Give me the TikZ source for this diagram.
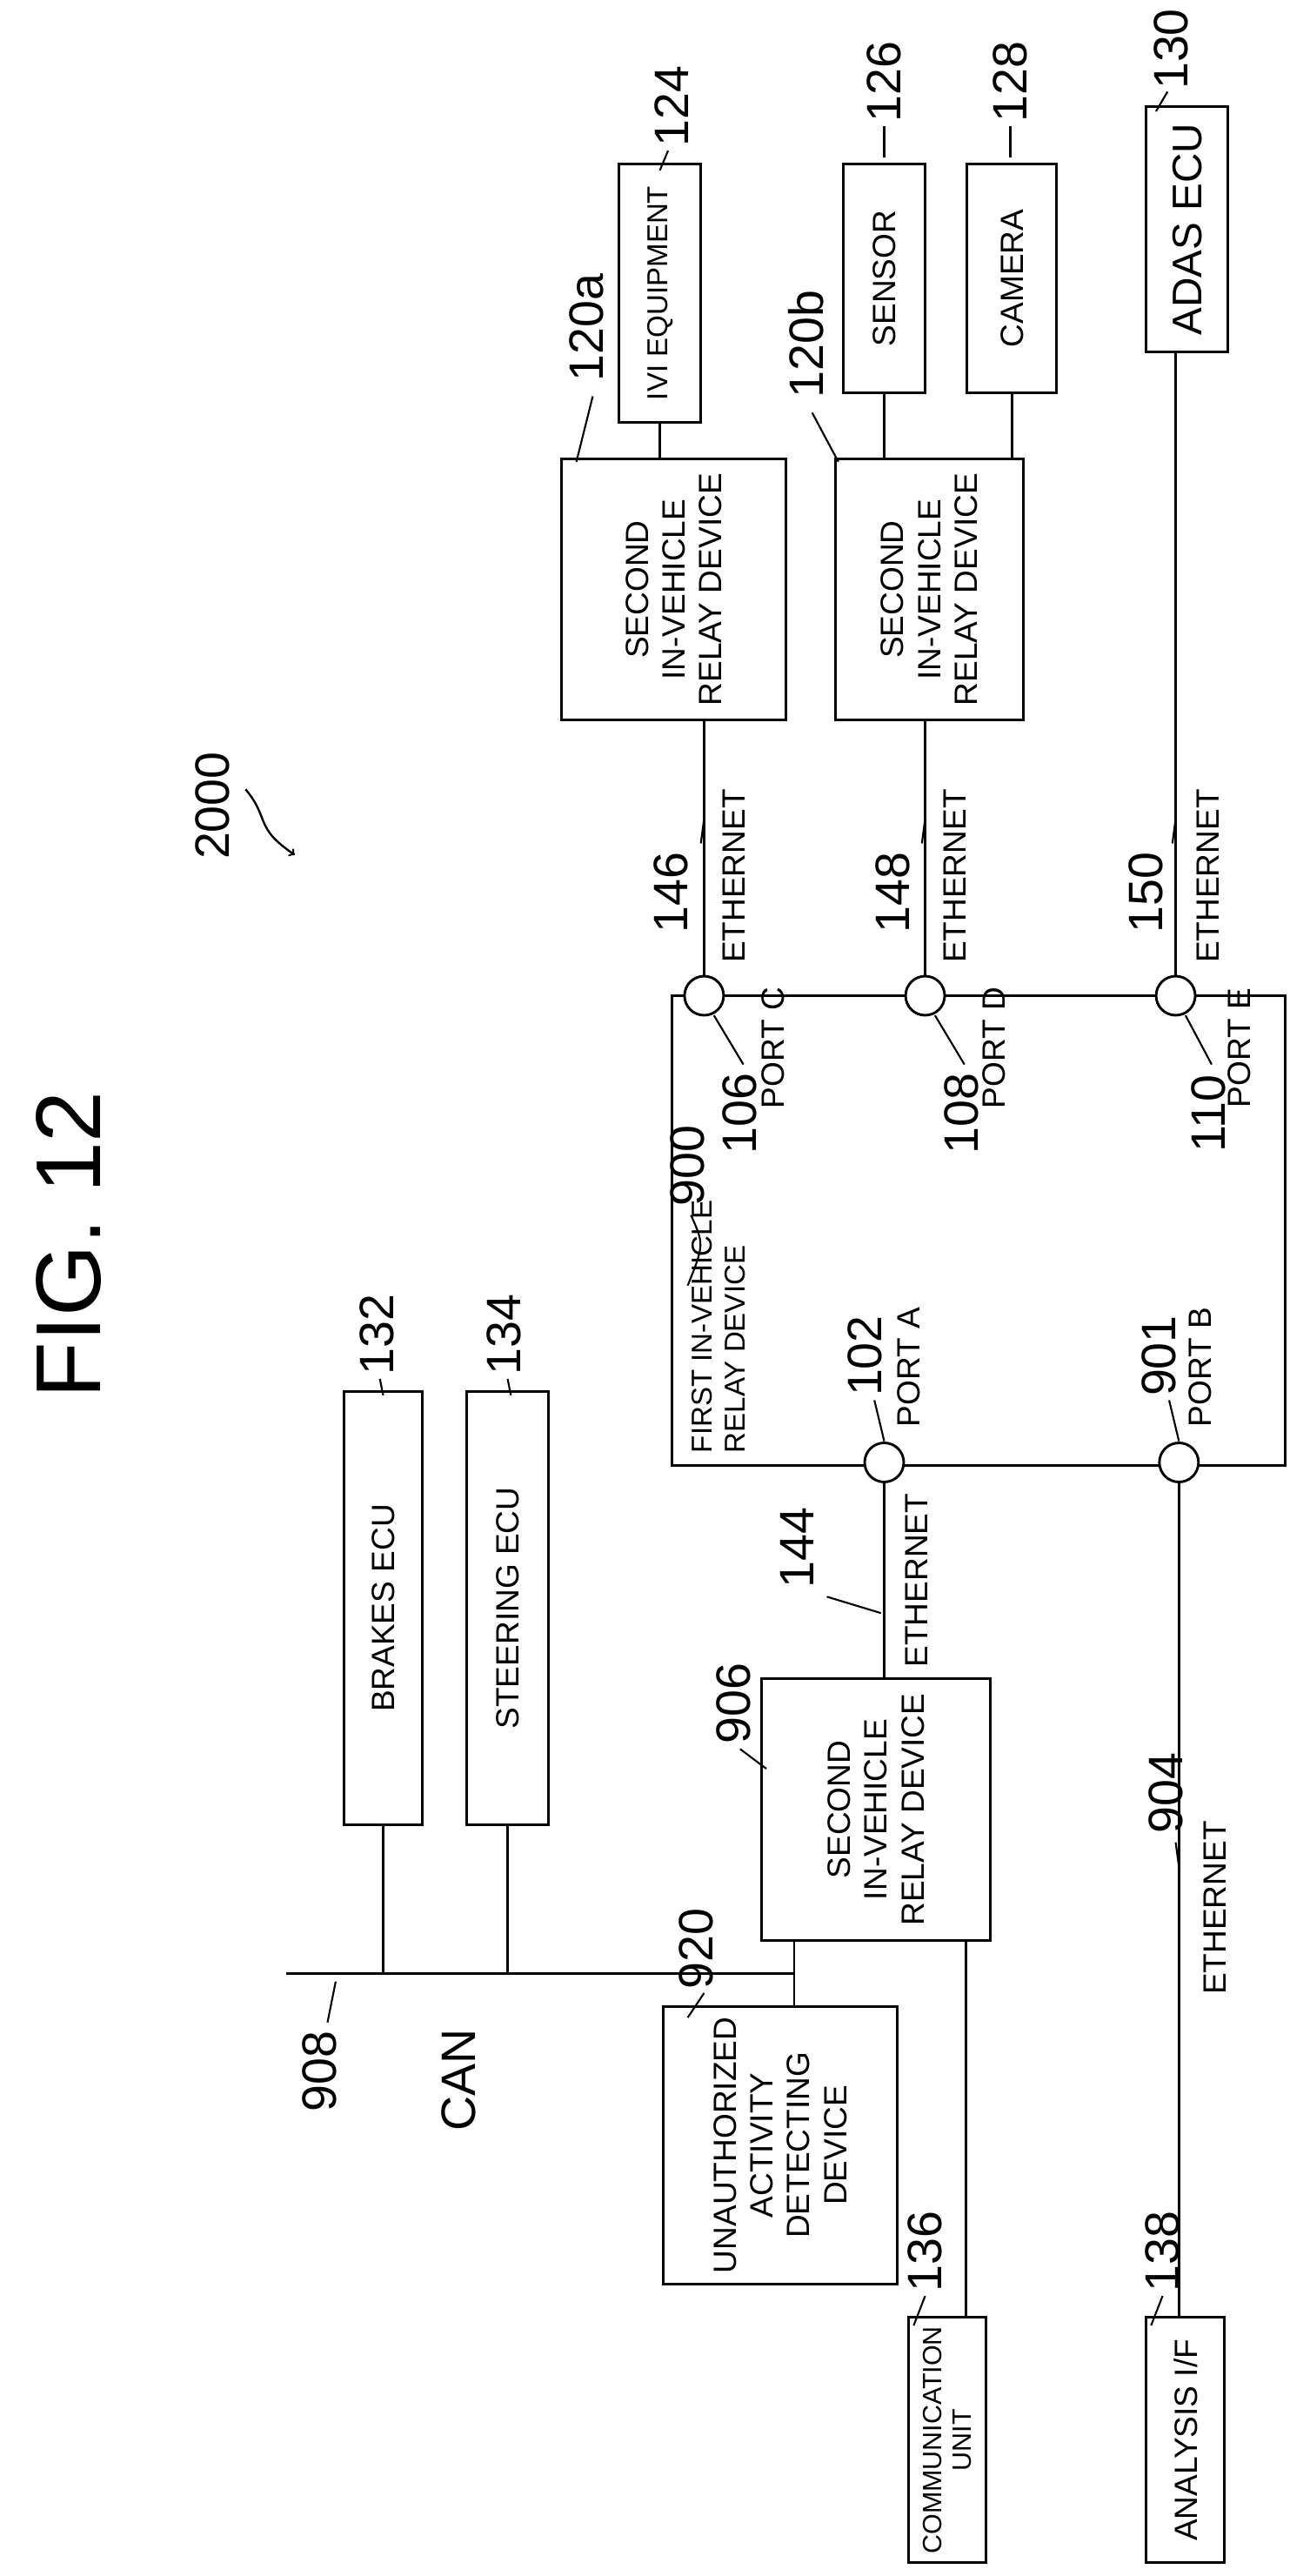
\documentclass[tikz,border=0pt]{standalone}
\usepackage{fontspec}
\setmainfont{Liberation Sans}
\begin{document}
\begin{tikzpicture}[x=0.05cm,y=-0.05cm,line width=2.2pt,
 bx/.style={draw,rectangle,inner sep=0},
 t/.style={rotate=90,font=\fontsize{28}{32}\selectfont,align=center,inner sep=0},
 n/.style={rotate=90,font=\fontsize{42}{46}\selectfont,inner sep=0},
 pt/.style={draw,circle,fill=white,minimum size=34pt,inner sep=0}]
\useasboundingbox (0,0) rectangle (800,1573);
\node[rotate=90,font=\fontsize{80}{80}\selectfont] (fig) at (42,760) {FIG. 12};
\node[n] (l2000) at (130,492) {2000};
\draw[->,line width=1.8pt] (150,482) .. controls (165,500) and (155,505) .. (180,522);
% first relay
\node[bx,minimum width=533pt,minimum height=408pt] (r900) at (597.5,751.5) {};
\node[t,anchor=south west,align=left,font=\fontsize{25}{29}\selectfont] (r900t) at (456,888) {FIRST IN-VEHICLE\\RELAY DEVICE};
% ports
\foreach \nm/\x/\y in {pA/540/893,pB/720/893,pC/430/608,pD/565/608,pE/718/608}
  \node[pt] (\nm) at (\x,\y) {};
% boxes
\node[bx,minimum width=195pt,minimum height=227pt] (r120a) at (411.5,360) {};
\node[t] at (r120a) {SECOND\\IN-VEHICLE\\RELAY DEVICE};
\node[bx,minimum width=163pt,minimum height=227pt] (r120b) at (567.5,360) {};
\node[t] at (r120b) {SECOND\\IN-VEHICLE\\RELAY DEVICE};
\node[bx,minimum width=71pt,minimum height=224pt] (ivi) at (403,179) {};
\node[t,font=\fontsize{25}{30}\selectfont] at (ivi) {IVI EQUIPMENT};
\node[bx,minimum width=71pt,minimum height=199pt] (sen) at (540,170) {};
\node[t] at (sen) {SENSOR};
\node[bx,minimum width=78pt,minimum height=199pt] (cam) at (618,170) {};
\node[t] at (cam) {CAMERA};
\node[bx,minimum width=71pt,minimum height=213pt] (adas) at (725,140) {};
\node[t,font=\fontsize{36}{40}\selectfont] at (adas) {ADAS ECU};
\node[bx,minimum width=199pt,minimum height=227pt] (r906) at (535,1105) {};
\node[t] at (r906) {SECOND\\IN-VEHICLE\\RELAY DEVICE};
\node[bx,minimum width=68pt,minimum height=376pt] (brk) at (234,982) {};
\node[t] at (brk) {BRAKES ECU};
\node[bx,minimum width=71pt,minimum height=376pt] (str) at (310,982) {};
\node[t] at (str) {STEERING ECU};
\node[bx,minimum width=203pt,minimum height=241pt] (uad) at (476.5,1310) {};
\node[t] at (uad) {UNAUTHORIZED\\ACTIVITY\\DETECTING\\DEVICE};
\node[bx,minimum width=67pt,minimum height=213pt] (com) at (578.5,1490) {};
\node[t,font=\fontsize{23}{26}\selectfont] at (com) {COMMUNICATION\\UNIT};
\node[bx,minimum width=68pt,minimum height=213pt] (ana) at (724,1490) {};
\node[t] at (ana) {ANALYSIS I/F};
% connections
\draw (pC) -- (pC|-r120a.south);
\draw (pD) -- (pD|-r120b.south);
\draw (pE) -- (pE|-adas.south);
\draw (ivi.south) -- (ivi.south|-r120a.north);
\draw (sen.south) -- (sen.south|-r120b.north);
\draw (cam.south) -- (cam.south|-r120b.north);
\draw (pA) -- (pA|-r906.north);
\draw (pB) -- (pB|-ana.north);
\coordinate (busL) at (175,1205);
\coordinate (busR) at (485,1205);
\coordinate (comX) at (590,1300);
\draw (busL) -- (busR);
\draw (brk.south) -- (brk.south|-busL);
\draw (str.south) -- (str.south|-busL);
\draw (busR|-r906.south) -- (busR|-uad.north);
\draw (comX|-r906.south) -- (comX|-com.north);
% labels
\tikzset{ld/.style={line width=1.6pt}}
\node[n] (n900) at (420,712) {900}; \draw[ld] (422,742) .. controls (430,760) .. (420,785);
\node[n] (n102) at (528,828) {102}; \draw[ld] (534,855) -- (540,880);
\node[t] (PA) at (555,835) {PORT A};
\node[n] (n901) at (708,828) {901}; \draw[ld] (714,855) -- (720,880);
\node[t] (PB) at (733,835) {PORT B};
\node[n] (n106) at (452,680) {106}; \draw[ld] (454,650) -- (436,620);
\node[t] (PC) at (472,640) {PORT C};
\node[n] (n108) at (587,680) {108}; \draw[ld] (589,650) -- (571,620);
\node[t] (PD) at (607,640) {PORT D};
\node[n] (n110) at (738,680) {110}; \draw[ld] (740,650) -- (724,620);
\node[t] (PE) at (757,640) {PORT E};
\node[n] at (410,545) {146}; \draw[ld] (428,515) -- (430,500);
\node[t] at (448,535) {ETHERNET};
\node[n] at (545,545) {148}; \draw[ld] (563,515) -- (565,500);
\node[t] at (583,535) {ETHERNET};
\node[n] at (700,545) {150}; \draw[ld] (716,515) -- (718,500);
\node[t] at (738,535) {ETHERNET};
\node[n] at (487,945) {144}; \draw[ld] (505,975) -- (538,985);
\node[t] at (560,965) {ETHERNET};
\node[n] at (712,1095) {904}; \draw[ld] (718,1125) -- (720,1140);
\node[t] at (742,1165) {ETHERNET};
\node[n] at (358,200) {120a}; \draw[ld] (362,242) -- (352,282);
\node[n] at (492,210) {120b}; \draw[ld] (496,252) -- (512,282);
\node[n] at (410,65) {124}; \draw[ld] (408,92) -- (403,104);
\node[n] at (540,50) {126}; \draw[ld] (540,77) -- (540,96);
\node[n] at (617,50) {128}; \draw[ld] (617,77) -- (617,96);
\node[n] at (715,30) {130}; \draw[ld] (713,56) -- (706,68);
\node[n] at (230,815) {132}; \draw[ld] (232,842) -- (234,852);
\node[n] at (308,815) {134}; \draw[ld] (310,842) -- (312,852);
\node[n] at (448,1040) {906}; \draw[ld] (452,1068) -- (468,1080);
\node[n] at (425,1190) {920}; \draw[ld] (430,1217) -- (420,1232);
\node[n] at (565,1375) {136}; \draw[ld] (565,1402) -- (558,1420);
\node[n] at (710,1375) {138}; \draw[ld] (710,1402) -- (703,1420);
\node[n] at (195,1265) {908}; \draw[ld] (200,1235) -- (205,1210);
\node[n] at (280,1270) {CAN};
\end{tikzpicture}
\end{document}
